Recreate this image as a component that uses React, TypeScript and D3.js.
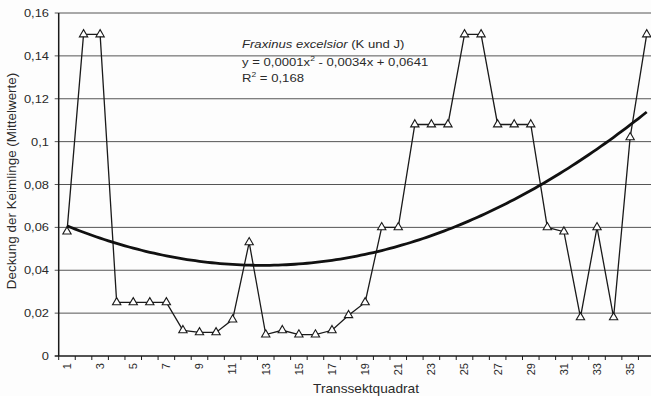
import React from "react";
import * as d3 from "d3";

const categories: number[] = d3.range(1, 37);
const values: number[] = [
  0.058, 0.15, 0.15, 0.025, 0.025, 0.025, 0.025, 0.012, 0.011, 0.011,
  0.017, 0.053, 0.01, 0.012, 0.01, 0.01, 0.012, 0.019, 0.025, 0.06,
  0.06, 0.108, 0.108, 0.108, 0.15, 0.15, 0.108, 0.108, 0.108, 0.06,
  0.058, 0.018, 0.06, 0.018, 0.102, 0.15,
];
const yTicks: number[] = [0, 0.02, 0.04, 0.06, 0.08, 0.1, 0.12, 0.14, 0.16];
const xTickLabels: number[] = categories.filter((c) => c % 2 === 1);
const annotation: string[] = [
  "y = 0,0001x",
  " - 0,0034x + 0,0641",
  "R",
  " = 0,168",
];

// Excel-style polynomial (order 2) trendline via least squares
function quadFit(xs: number[], ys: number[]): [number, number, number] {
  const S = (f: (x: number, y: number) => number) =>
    d3.sum(xs, (x, i) => f(x, ys[i]));
  const n = xs.length;
  const sx = S((x) => x), sx2 = S((x) => x * x), sx3 = S((x) => x ** 3), sx4 = S((x) => x ** 4);
  const sy = S((x, y) => y), sxy = S((x, y) => x * y), sx2y = S((x, y) => x * x * y);
  const A = [
    [sx4, sx3, sx2, sx2y],
    [sx3, sx2, sx, sxy],
    [sx2, sx, n, sy],
  ];
  for (let i = 0; i < 3; i++) {
    for (let j = i + 1; j < 3; j++) {
      const f = A[j][i] / A[i][i];
      for (let k = i; k < 4; k++) A[j][k] -= f * A[i][k];
    }
  }
  const r = [0, 0, 0];
  for (let i = 2; i >= 0; i--) {
    let s = A[i][3];
    for (let k = i + 1; k < 3; k++) s -= A[i][k] * r[k];
    r[i] = s / A[i][i];
  }
  return [r[0], r[1], r[2]];
}

const fmt = (v: number) => (v === 0 ? "0" : String(+v.toFixed(2)).replace(".", ","));

export default function App() {
  const W = 651, H = 396;
  const left = 58.7, right = 655, top = 13, bottom = 356;
  const x = d3.scaleBand<number>().domain(categories).range([left, right]);
  const cx = (c: number) => (x(c) as number) + x.bandwidth() / 2;
  const y = d3.scaleLinear().domain([0, 0.16]).range([bottom, top]);

  const [a, b, c] = quadFit(categories, values);
  const trendPts = d3.range(1, 36.01, 0.25).map((t) => [
    left + x.bandwidth() * (t - 0.5),
    y(a * t * t + b * t + c),
  ] as [number, number]);
  const trendLine = d3.line().curve(d3.curveLinear)(trendPts) || "";
  const dataLine =
    d3.line<number>().x((_, i) => cx(categories[i])).y((v) => y(v))(values) || "";
  const tri = d3.symbol().type(d3.symbolTriangle).size(30)() || "";

  const font = "'Liberation Sans', Arial, sans-serif";
  const ink = "#1a1a1a";
  const txt = "#2a2a2a";

  return (
    <svg width={W} height={H} style={{ position: "absolute", left: 0, top: 0 }} fontFamily={font}>
      <rect width={W} height={H} fill="#fdfdfd" />
      {yTicks.map((t) => (
        <g key={t}>
          <line x1={left - 4} x2={W} y1={y(t)} y2={y(t)} stroke={t === 0 ? ink : "#555"} strokeWidth={t === 0 ? 1.5 : 1} />
          <g transform={`translate(49,${y(t)}) scale(1.12,1)`}>
            <text dy="0.35em" textAnchor="end" fontSize={11.5} fill={txt}>
              {fmt(t)}
            </text>
          </g>
        </g>
      ))}
      <line x1={left} x2={left} y1={top} y2={bottom} stroke={ink} strokeWidth={1.5} />
      {categories.map((cat) => (
        <line key={cat} x1={x(cat) as number} x2={x(cat) as number} y1={bottom} y2={bottom + 4} stroke={ink} />
      ))}
      {xTickLabels.map((cat) => (
        <text key={cat} transform={`translate(${cx(cat)},${bottom + 7}) rotate(-90)`} textAnchor="end" dy="0.35em" fontSize={11} fill={txt}>
          {cat}
        </text>
      ))}
      <path d={dataLine} fill="none" stroke={ink} strokeWidth={1.3} />
      {values.map((v, i) => (
        <path key={i} d={tri} transform={`translate(${cx(categories[i])},${y(v)})`} fill="#fff" stroke={ink} strokeWidth={1.1} />
      ))}
      <path d={trendLine} fill="none" stroke="#111" strokeWidth={2.8} />
      <g fontSize={11.5} fill={txt}>
        <g transform="translate(242,48) scale(1.14,1)">
          <text>
            <tspan fontStyle="italic">Fraxinus excelsior</tspan>
            <tspan> (K und J)</tspan>
          </text>
        </g>
        <g transform="translate(242,66) scale(1.14,1)">
          <text>
            {annotation[0]}
            <tspan dy={-5} fontSize={7.5}>2</tspan>
            <tspan dy={5}>{annotation[1]}</tspan>
          </text>
        </g>
        <g transform="translate(242,82) scale(1.14,1)">
          <text>
            {annotation[2]}
            <tspan dy={-5} fontSize={7.5}>2</tspan>
            <tspan dy={5}>{annotation[3]}</tspan>
          </text>
        </g>
      </g>
      <g transform={`translate(12,${181}) rotate(-90) scale(1.12,1)`}>
        <text textAnchor="middle" dy="0.35em" fontSize={12} fill={txt}>
          Deckung der Keimlinge (Mittelwerte)
        </text>
      </g>
      <g transform="translate(366,393) scale(1.14,1)">
        <text textAnchor="middle" fontSize={12} fill={txt}>
          Transsektquadrat
        </text>
      </g>
    </svg>
  );
}
